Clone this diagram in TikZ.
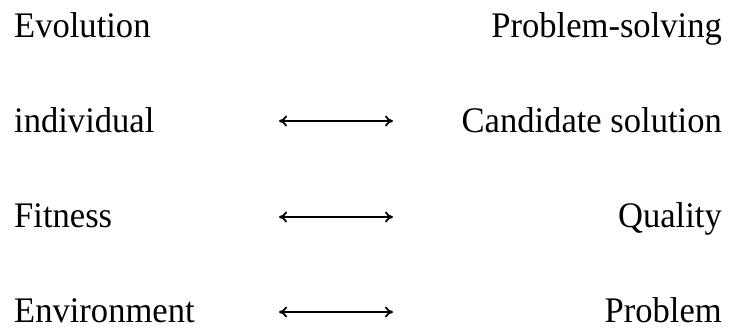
\documentclass[tikz,border=0pt]{standalone}
\usepackage{fontspec}
\setmainfont[FakeStretch=0.96]{Liberation Serif}
\usetikzlibrary{arrows.meta}
\begin{document}
\begin{tikzpicture}[x=1pt,y=-1pt,
  lbl/.style={inner sep=0pt,font=\fontsize{36}{40}\selectfont},
  lft/.style={lbl,anchor=base west},
  rgt/.style={lbl,anchor=base east},
  conn/.style={{Computer Modern Rightarrow[length=8pt,width=11pt]}-{Computer Modern Rightarrow[length=8pt,width=11pt]},line width=1.8pt}]
\useasboundingbox (0,0) rectangle (734,332);
\node[lft] (evo) at (14,37) {Evolution};
\node[rgt] (ps) at (722,37) {Problem-solving};
\node[lft] (ind) at (14,132) {individual};
\node[rgt] (cand) at (722,132) {Candidate solution};
\node[lft] (fit) at (14,227) {Fitness};
\node[rgt] (qual) at (722,227) {Quality};
\node[lft] (env) at (14,322) {Environment};
\node[rgt] (prob) at (722,322) {Problem};
\coordinate (a1l) at (279,121); \coordinate (a1r) at (393,121);
\coordinate (a2l) at (279,217); \coordinate (a2r) at (393,217);
\coordinate (a3l) at (279,312); \coordinate (a3r) at (393,312);
\draw[conn] (a1l) -- (a1r);
\draw[conn] (a2l) -- (a2r);
\draw[conn] (a3l) -- (a3r);
\end{tikzpicture}
\end{document}
